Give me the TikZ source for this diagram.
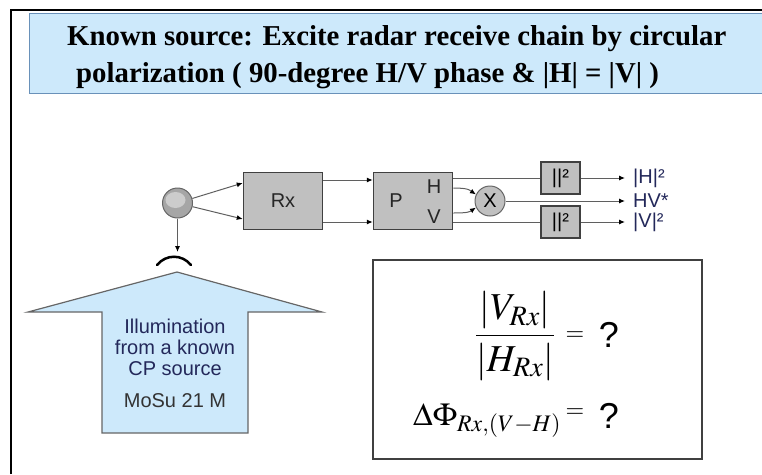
\documentclass[tikz,border=0pt]{standalone}
\usepackage{amsmath}
\usepackage{mathptmx}
\usepackage{fontspec}
\setsansfont{Liberation Sans}
\newfontfamily\titlefont{Liberation Serif}
\usepackage{tikz}
\usetikzlibrary{arrows.meta, positioning}
\usepackage{xcolor}
\definecolor{sky}{RGB}{205,233,251}
\definecolor{skyline}{RGB}{105,145,185}
\definecolor{ink}{RGB}{35,40,90}
\definecolor{boxgray}{RGB}{192,192,192}
\definecolor{wiregray}{RGB}{95,95,95}

\begin{document}
\begin{tikzpicture}[x=1pt,y=-1pt,on grid,node distance=130pt,>={Latex[length=6pt,width=5pt,black]},font=\sffamily\fontsize{20}{21}\selectfont]
    \tikzstyle{block}=[shape=rectangle,draw=black!75,line width=1.5pt,fill=boxgray,minimum width=79pt,minimum height=57pt,inner sep=0pt]
    \tikzstyle{sqbox}=[shape=rectangle,draw=black!75,line width=1.5pt,fill=boxgray,minimum width=39pt,minimum height=32pt,inner sep=0pt]
    \tikzstyle{mixer}=[shape=circle,draw=black!60,line width=1pt,fill=boxgray,minimum size=30pt,inner sep=0pt]
    \tikzstyle{wire}=[draw=wiregray,line width=1pt]
    \tikzstyle{outlab}=[anchor=west,text=ink,inner sep=0pt]
    \tikzstyle{mathbig}=[font=\fontsize{38}{40}\selectfont,inner sep=0pt]
    \tikzstyle{mathsign}=[font=\fontsize{24}{26}\selectfont,inner sep=0pt]
    \tikzstyle{qmark}=[font=\sffamily\fontsize{36}{38}\selectfont,inner sep=0pt]

    \useasboundingbox (0,0) rectangle (762,474);
    \draw[line width=2.5pt] (11,474) -- (11,10) -- (762,10);
    \fill[sky] (29,13) rectangle (762,93);
    \draw[skyline,line width=1pt] (762,13) -- (29,13) -- (29,93) -- (762,93);
    \node[anchor=west,align=left,inner sep=0pt,font=\titlefont\bfseries\fontsize{28.8}{37}\selectfont] (title) at (67,57)
        {Known source: Excite radar receive chain by circular\\\hspace{9pt}polarization ( 90-degree H/V phase \& |H| = |V| )};

    \node[shape=circle,draw=black!60,line width=1pt,fill=gray!70,minimum size=30pt,inner sep=0pt] (ant) at (177.5,203) {};
    \fill[gray!40] ([shift={(-2,-3)}]ant.center) ellipse (10 and 8);
    \node[block] (Rx) at (283,201) {};
    \node[text=black!85] (Rxtext) at (Rx) {Rx};
    \node[block, right=of Rx] (P) {};
    \node[text=black!85] (Ptext) at ([xshift=-17pt]P.center) {P};
    \node[text=black!85] (Htext) at ([xshift=21pt,yshift=14pt]P.center) {H};
    \node[text=black!85] (Vtext) at ([xshift=21pt,yshift=-16pt]P.center) {V};
    \node[mixer, right=77pt of P] (X) {X};
    \node[sqbox] (sq1) at (560.5,178) {||²};
    \node[sqbox] (sq2) at (560.5,222) {||²};
    \coordinate (oH) at (625,178);
    \coordinate (oX) at (625,201);
    \coordinate (oV) at (625,222);
    \node[outlab] (labH) at ([xshift=8pt]oH) {|H|²};
    \node[outlab] (labX) at ([xshift=8pt]oX) {HV*};
    \node[outlab] (labV) at ([xshift=8pt]oV) {|V|²};
    \coordinate (feed) at (177.5,252);

    \draw[->, wire] (ant) -- ([yshift=18pt]Rx.west);
    \draw[->, wire] (ant) -- ([yshift=-18pt]Rx.west);
    \draw[->, wire] ([yshift=21pt]Rx.east) -- ([yshift=21pt]P.west);
    \draw[->, wire] ([yshift=-21pt]Rx.east) -- ([yshift=-21pt]P.west);
    \draw[->, wire] (sq1.east) -- (oH);
    \draw[->, wire] (X.east) -- (oX);
    \draw[->, wire] (sq2.east) -- (oV);
    \draw[->, wire] (ant) -- (feed);
    \draw[wire] (P.east |- sq1) -- (sq1.west);
    \draw[wire] (P.east |- sq2) -- (sq2.west);
    \draw[->, wire] ([yshift=13pt]P.east) .. controls +(16,0) and +(-6,-4) .. (X.155);
    \draw[->, wire] ([yshift=-12pt]P.east) .. controls +(16,0) and +(-6,4) .. (X.205);

    \draw[line width=2.5pt,line cap=round] (157,265) .. controls (166,254) and (182,254) .. (191,265);
    \filldraw[fill=sky,draw=black!60,line width=1.2pt] (177,272) -- (322,312) -- (248,312) -- (248,433) -- (102,433) -- (102,312) -- (28,312) -- cycle;
    \node[text=ink,align=center] (illum) at (175,347) {Illumination\\from a known\\CP source};
    \node[text=black!80] (mosu) at (175,401) {MoSu 21 M};

    \node[draw=black!75,line width=2pt,minimum width=329pt,minimum height=199pt] (eqbox) at (537.5,359.5) {};
    \node[mathbig] (ratio) at (515,336) {$\dfrac{|V_{Rx}|}{|H_{Rx}|}$};
    \node[mathsign] (eqA) at (575,336) {$=$};
    \node[qmark] (qA) at (609,335) {?};
    \node[mathbig,anchor=base west,font=\fontsize{32}{34}\selectfont] (dphi) at (413,425) {$\Delta\Phi_{Rx,(V-H)}$};
    \node[mathsign] (eqB) at (575,413) {$=$};
    \node[qmark] (qB) at (609,416) {?};
\end{tikzpicture}
\end{document}
